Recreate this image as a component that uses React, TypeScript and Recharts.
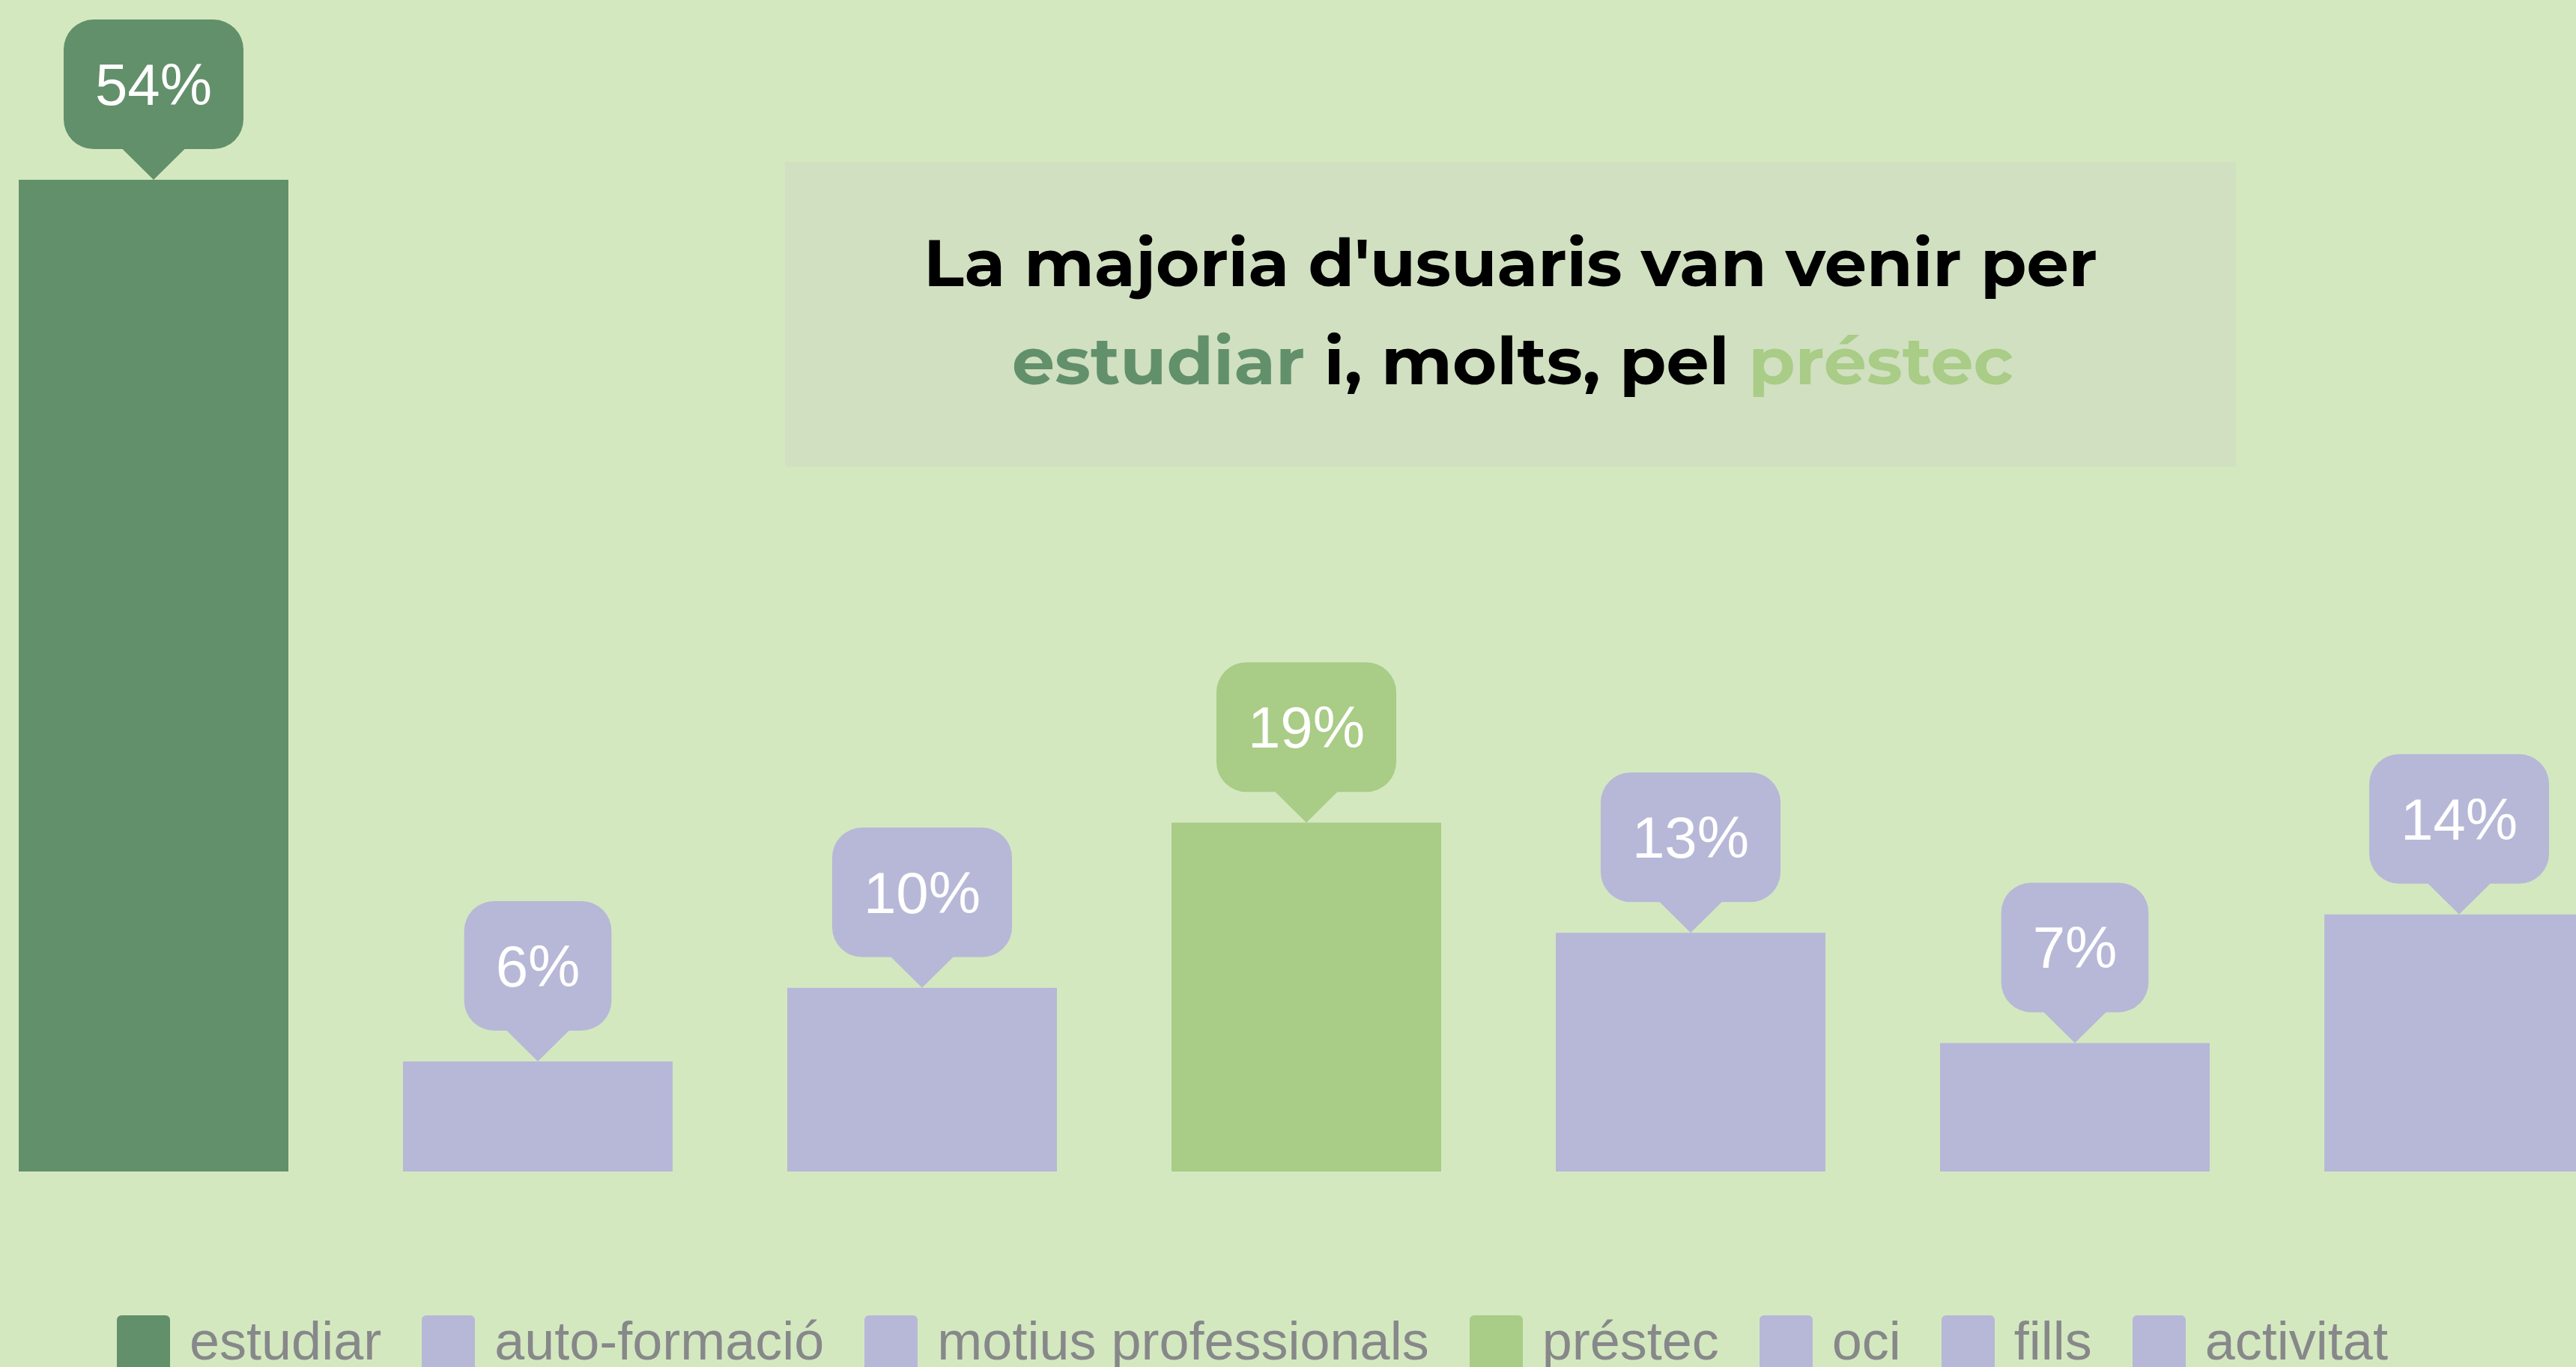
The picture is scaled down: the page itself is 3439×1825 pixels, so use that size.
import React from 'react';
import { BarChart, Bar, XAxis, YAxis, Cell, LabelList, Legend } from 'recharts';

const categories = ['estudiar', 'auto-formació', 'motius professionals', 'préstec', 'oci', 'fills', 'activitat'];
const values = [54, 6, 10, 19, 13, 7, 14];
const valueLabels = ['54%', '6%', '10%', '19%', '13%', '7%', '14%'];
const barColors = ['#62906a', '#b7b8d7', '#b7b8d7', '#a9cc86', '#b7b8d7', '#b7b8d7', '#b7b8d7'];
const titleLine1 = "La majoria d'usuaris van venir per";
const titleLine2 = ['estudiar', ' i, molts, pel ', 'préstec'];
const titleLine2Colors = ['#62906a', '#000000', '#a9cc86'];

const data = categories.map((name, i) => ({ name, value: values[i] }));

const BG = '#d4e8c0';
const SANS = "Arial, 'Liberation Sans', sans-serif";
const TITLE_FONT = "Montserrat, 'Open Sans', 'DejaVu Sans', sans-serif";
const LABEL_SIZE = 78;

const Bubble = (props: any) => {
  const vb = props.viewBox || {};
  const x = props.x ?? vb.x;
  const y = props.y ?? vb.y;
  const width = props.width ?? vb.width;
  let index = props.index;
  if (index === undefined || index === null) index = values.indexOf(props.value);
  const label = valueLabels[index];
  const digits = label.length - 1;
  const textW = LABEL_SIZE * (0.556 * digits + 0.889);
  const w = textW + 84;
  const cx = x + width / 2;
  const tipY = y;
  const bottom = y - 41;
  const top = bottom - 173;
  const r = 40;
  const pw = 41.5;
  const left = cx - w / 2;
  const right = cx + w / 2;
  const d = `M${left + r},${top} H${right - r} A${r},${r} 0 0 1 ${right},${top + r} V${bottom - r} A${r},${r} 0 0 1 ${right - r},${bottom} H${cx + pw} L${cx},${tipY} L${cx - pw},${bottom} H${left + r} A${r},${r} 0 0 1 ${left},${bottom - r} V${top + r} A${r},${r} 0 0 1 ${left + r},${top} Z`;
  return (
    <g>
      <path d={d} fill={barColors[index]} />
      <text x={cx} y={top + 114} textAnchor="middle" fill="#ffffff" fontSize={LABEL_SIZE} fontFamily={SANS}>
        {label}
      </text>
    </g>
  );
};

const renderLegend = () => (
  <div style={{ display: 'flex', alignItems: 'flex-start', whiteSpace: 'nowrap' }}>
    {categories.map((c, i) => (
      <div key={c} style={{ display: 'flex', alignItems: 'flex-start', marginRight: 54 }}>
        <div style={{ width: 71, height: 90, background: barColors[i], borderRadius: 6, marginRight: 26 }} />
        <span style={{ fontFamily: SANS, fontSize: 72, lineHeight: '72px', color: '#87888a', marginTop: -2 }}>{c}</span>
      </div>
    ))}
  </div>
);

export default function App() {
  return (
    <div
      style={{
        position: 'absolute',
        left: 0,
        top: 0,
        width: 3439,
        height: 1825,
        overflow: 'hidden',
        background: BG,
      }}
    >
      <div style={{ position: 'absolute', left: -52, top: 0 }}>
        <BarChart width={3591} height={1825} data={data} margin={{ top: 93, right: 0, bottom: 261, left: 0 }}>
          <XAxis dataKey="name" hide />
          <YAxis hide domain={[0, 60]} />
          <Legend
            layout="horizontal"
            verticalAlign="middle"
            align="center"
            content={renderLegend}
            wrapperStyle={{ left: 208, top: 1756, width: 3300, height: 90 }}
          />
          <Bar dataKey="value" barSize={360} isAnimationActive={false}>
            {data.map((d, i) => (
              <Cell key={d.name} fill={barColors[i]} />
            ))}
            <LabelList dataKey="value" content={Bubble} />
          </Bar>
        </BarChart>
      </div>
      <svg
        width={3439}
        height={1825}
        style={{ position: 'absolute', left: 0, top: 0, pointerEvents: 'none' }}
      >
        <rect x={1048} y={216} width={1937} height={407} fill="#d0e0c1" />
        <text
          x={1233}
          y={382}
          fontSize={87}
          fontWeight={700}
          fontFamily={TITLE_FONT}
          fill="#000000"
          textLength={1567}
          lengthAdjust="spacingAndGlyphs"
        >
          {titleLine1}
        </text>
        <text
          x={1351}
          y={513}
          fontSize={87}
          fontWeight={700}
          fontFamily={TITLE_FONT}
          textLength={1337}
          lengthAdjust="spacingAndGlyphs"
        >
          {titleLine2.map((t, i) => (
            <tspan key={i} fill={titleLine2Colors[i]}>
              {t}
            </tspan>
          ))}
        </text>
      </svg>
    </div>
  );
}
